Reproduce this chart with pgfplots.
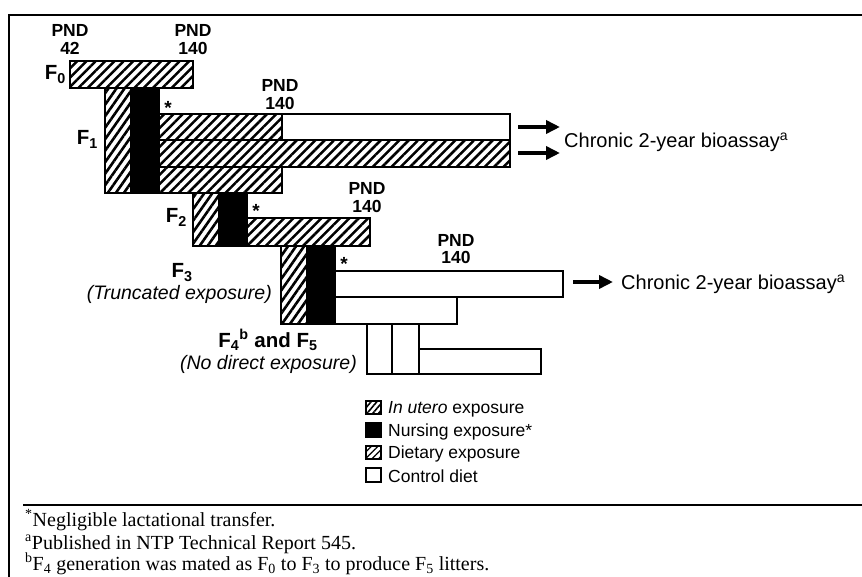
\documentclass[border=0pt]{standalone}
\usepackage{fontspec}
\setmainfont{Liberation Sans}
\newfontfamily\timesfont{Liberation Serif}
\usepackage{pgfplots}
\pgfplotsset{compat=1.18}
\usetikzlibrary{patterns.meta,arrows.meta}
\tikzset{
  hatch/.style={draw=black,line width=1.9pt,pattern={Lines[angle=45,distance=6.6pt,line width=2.5pt]}},
  utero/.style={draw=black,line width=1.9pt,pattern={Lines[angle=55,distance=6.6pt,line width=2.6pt]}},
  nurse/.style={draw=black,line width=1.9pt,fill=black},
  ctrl/.style={draw=black,line width=1.9pt,fill=white},
  lhatch/.style={draw=black,line width=1.4pt,pattern={Lines[angle=50,distance=4.4pt,line width=1.6pt]}},
  lhatchb/.style={draw=black,line width=1.4pt,pattern={Lines[angle=45,distance=4.6pt,line width=1.2pt]}},
  lnurse/.style={draw=black,line width=1.4pt,fill=black},
  lctrl/.style={draw=black,line width=1.4pt,fill=white},
  every node/.style={inner sep=0pt},
  pnd/.style={font=\fontsize{17.5}{18}\selectfont\bfseries,anchor=base},
  flab/.style={font=\fontsize{20.5}{21}\selectfont\bfseries,anchor=base},
  itl/.style={font=\fontsize{19.5}{20}\selectfont\itshape,anchor=base east},
  leg/.style={font=\fontsize{17.5}{18}\selectfont,anchor=base west},
  fn/.style={font=\fontsize{20}{21}\selectfont\timesfont,anchor=base west},
}
\begin{document}
\begin{tikzpicture}
\path[use as bounding box,clip] (0,0) rectangle (862pt,577pt);
\begin{axis}[at={(0pt,0pt)},anchor=south west,width=862pt,height=577pt,scale only axis,
  xmin=0,xmax=862,ymin=0,ymax=577,y dir=reverse,hide axis,clip=false,no markers]
% frame
\addplot[black,line width=1.3pt] coordinates {(9,577) (9,15) (862,15)};
\addplot[black,line width=1.3pt] coordinates {(23,505) (862,505)};
% F0
\addplot[hatch] coordinates {(70,61) (193,61) (193,88) (70,88)} -- cycle;
% F1
\addplot[utero] coordinates {(105,88) (131,88) (131,193) (105,193)} -- cycle;
\addplot[nurse] coordinates {(131,88) (159,88) (159,193) (131,193)} -- cycle;
\addplot[hatch] coordinates {(159,114) (282,114) (282,140) (159,140)} -- cycle;
\addplot[ctrl] coordinates {(282,114) (510,114) (510,140) (282,140)} -- cycle;
\addplot[hatch] coordinates {(159,140) (510,140) (510,167) (159,167)} -- cycle;
\addplot[hatch] coordinates {(159,167) (282,167) (282,193) (159,193)} -- cycle;
% F2
\addplot[utero] coordinates {(193,193) (219,193) (219,246) (193,246)} -- cycle;
\addplot[nurse] coordinates {(219,193) (247,193) (247,246) (219,246)} -- cycle;
\addplot[hatch] coordinates {(247,218) (370,218) (370,246) (247,246)} -- cycle;
% F3
\addplot[utero] coordinates {(281,246) (307,246) (307,324) (281,324)} -- cycle;
\addplot[nurse] coordinates {(307,246) (335,246) (335,324) (307,324)} -- cycle;
\addplot[ctrl] coordinates {(335,271) (563,271) (563,297) (335,297)} -- cycle;
\addplot[ctrl] coordinates {(335,297) (457,297) (457,324) (335,324)} -- cycle;
% F4 / F5
\addplot[ctrl] coordinates {(367,324) (392,324) (392,374) (367,374)} -- cycle;
\addplot[ctrl] coordinates {(392,324) (419,324) (419,374) (392,374)} -- cycle;
\addplot[ctrl] coordinates {(419,349) (541,349) (541,374) (419,374)} -- cycle;
% arrows
\addplot[black,line width=4pt,-{Triangle[length=14pt,width=13pt]}] coordinates {(518,127) (560,127)};
\addplot[black,line width=4pt,-{Triangle[length=14pt,width=13pt]}] coordinates {(518,153) (560,153)};
\addplot[black,line width=4pt,-{Triangle[length=14pt,width=13pt]}] coordinates {(573,282) (613,282)};
% legend boxes
\addplot[lhatch] coordinates {(366,401) (381,401) (381,414) (366,414)} -- cycle;
\addplot[lnurse] coordinates {(366,423) (381,423) (381,437) (366,437)} -- cycle;
\addplot[lhatchb] coordinates {(366,446) (381,446) (381,459) (366,459)} -- cycle;
\addplot[lctrl] coordinates {(366,468) (381,468) (381,482) (366,482)} -- cycle;
% labels
\node[pnd] at (70,37) {PND};
\node[pnd] at (70,55) {42};
\node[pnd] at (193,37) {PND};
\node[pnd] at (193,55) {140};
\node[pnd] at (280,92) {PND};
\node[pnd] at (280,110) {140};
\node[pnd] at (367,195) {PND};
\node[pnd] at (367,213) {140};
\node[pnd] at (456,247) {PND};
\node[pnd] at (456,264) {140};
\node[pnd,font=\fontsize{19}{19}\selectfont\bfseries] at (168,115) {*};
\node[pnd,font=\fontsize{19}{19}\selectfont\bfseries] at (256,218) {*};
\node[pnd,font=\fontsize{19}{19}\selectfont\bfseries] at (344,271) {*};
\node[flab,anchor=base east] at (66,80) {F\textsubscript{0}};
\node[flab,anchor=base east] at (98,145) {F\textsubscript{1}};
\node[flab,anchor=base east] at (187,223) {F\textsubscript{2}};
\node[flab] at (182,278) {F\textsubscript{3}};
\node[itl] at (272,300) {(Truncated exposure)};
\node[flab] at (268,347) {F\textsubscript{4}\textsuperscript{b} and F\textsubscript{5}};
\node[itl] at (357,369) {(No direct exposure)};
\node[font=\fontsize{20}{20}\selectfont,anchor=base west] at (564,148) {Chronic 2-year bioassay\textsuperscript{a}};
\node[font=\fontsize{20}{20}\selectfont,anchor=base west] at (621,290) {Chronic 2-year bioassay\textsuperscript{a}};
\node[leg] at (388,413) {\textit{In utero} exposure};
\node[leg] at (388,436) {Nursing exposure*};
\node[leg] at (388,458) {Dietary exposure};
\node[leg] at (388,482) {Control diet};
\node[fn] at (25,526) {\textsuperscript{*}Negligible lactational transfer.};
\node[fn] at (25,549) {\textsuperscript{a}Published in NTP Technical Report 545.};
\node[fn] at (25,570) {\textsuperscript{b}F\textsubscript{4} generation was mated as F\textsubscript{0} to F\textsubscript{3} to produce F\textsubscript{5} litters.};
\end{axis}
\end{tikzpicture}
\end{document}
